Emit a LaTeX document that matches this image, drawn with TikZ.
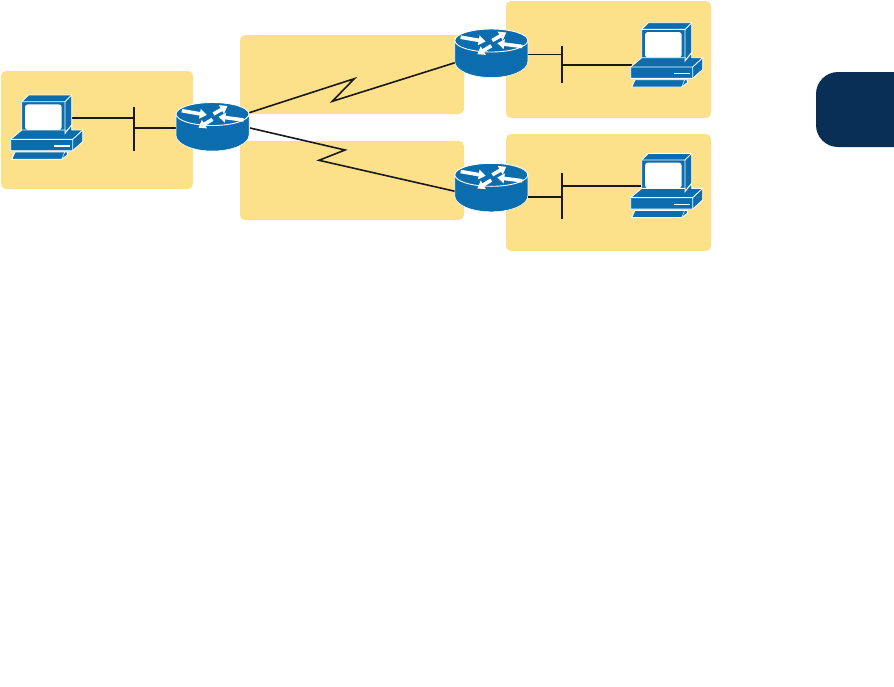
\documentclass[tikz,border=0pt]{standalone}
\usetikzlibrary{arrows.meta}
\definecolor{netsand}{HTML}{FCE18A}
\definecolor{netblue}{HTML}{0B6DAE}
\definecolor{netnavy}{HTML}{0A2F57}
\tikzset{
  pics/routericon/.style = {code = {
    % body, then top face
    \fill[netblue, draw=white, line width=0.5pt] (-36.5,0) -- (-36.5,21) arc[start angle=180, end angle=0, x radius=36.5, y radius=16] -- (36.5,0) -- cycle;
    \fill[netblue, draw=white, line width=0.9pt] (0,0) ellipse [x radius=36.5, y radius=11.5];
    \foreach \ax/\ay/\bx/\by in {-30.7/-3.3/-5.7/1, 1/0/15/-8, 31/6/6/2.7, 0/5.3/-14/13.7}
      \draw[white, line width=3.6pt, -{Triangle[length=7pt, width=9.5pt]}] (\ax,\ay) -- (\bx,\by);
  }},
  pics/pcicon/.style = {code = {
    % monitor
    \filldraw[netblue, draw=white, line width=0.9pt] (11,6.7) -- (17.7,0) -- (61,0) -- (61,30) -- (54.3,38.3) -- (11,38.3) -- cycle;
    \draw[white, line width=0.9pt] (11,6.7) -- (54.3,6.7) -- (61,0) (54.3,6.7) -- (54.3,38.3);
    \fill[white] (14.3,9.3) [rounded corners=3pt] rectangle (51,35);
    % base
    \filldraw[netblue, draw=white, line width=0.9pt] (0,44.3) -- (11,35) -- (54.3,35) -- (54.3,38.3) -- (61,30) -- (61,35) -- (72,35) -- (72,46.7) -- (62,55.7) -- (0,55.7) -- cycle;
    \draw[white, line width=0.9pt] (0,44.3) -- (62,44.3) -- (72,35) (62,44.3) -- (62,55.7);
    \draw[white, line width=1.4pt] (43.3,51) -- (59.3,51);
    % keyboard
    \filldraw[netblue, draw=white, line width=0.9pt] (1,64.3) -- (4.3,57) -- (56.7,57) -- (56.7,60) -- (51,64.3) -- cycle;
    \draw[white, line width=0.5pt] (51,64.3) -- (54,57);
  }}
}
\begin{document}
\begin{tikzpicture}[
  x=1pt, y=-1pt,
  lanzone/.style = {fill=netsand, rounded corners=5pt},
  ethline/.style = {line width=1.6pt, draw=black!90},
  wanline/.style = {line width=1.6pt, draw=black!90, line join=miter}
]
  \useasboundingbox (0,0) rectangle (894,686);
  % zones
  \fill[lanzone] (1,71) rectangle (193,189);
  \fill[lanzone] (240,35) rectangle (464,114);
  \fill[lanzone] (240,141) rectangle (464,220);
  \fill[lanzone] (506,1) rectangle (711,118);
  \fill[lanzone] (506,134) rectangle (711,251);
  % tab
  \fill[netnavy] (894,72) -- (838,72) arc[start angle=270, end angle=180, radius=22] -- (816,125) arc[start angle=180, end angle=90, radius=22] -- (894,147) -- cycle;
  % link ends
  \coordinate (rtrLa) at (249.3,112.7);
  \coordinate (rtrLb) at (250,128);
  \coordinate (rtrTa) at (455,62.7);
  \coordinate (rtrBa) at (455,191.3);
  % serial links
  \draw[wanline] (rtrLa) -- (354.3,78.7) -- (332.3,101.3) -- (rtrTa);
  \draw[wanline] (rtrLb) -- (345,150) -- (319,160.3) -- (rtrBa);
  % left lan
  \coordinate (barLt) at (133.7,106.7);
  \coordinate (barLb) at (133.7,150.7);
  \coordinate (barLm) at (133.7,117.7);
  \coordinate (barLr) at (133.7,128);
  \coordinate (pcLp) at (72,117.7);
  \coordinate (rtrLp) at (176,128);
  \draw[ethline] (barLt) -- (barLb);
  \draw[ethline] (pcLp) -- (barLm);
  \draw[ethline] (barLr) -- (rtrLp);
  % top lan
  \coordinate (barTt) at (562,46);
  \coordinate (barTb) at (562,83.3);
  \coordinate (barTm) at (562,54.5);
  \coordinate (barTr) at (562,64.7);
  \coordinate (rtrTp) at (527.7,54.5);
  \coordinate (pcTp) at (632,64.7);
  \draw[ethline] (barTt) -- (barTb);
  \draw[ethline] (rtrTp) -- (barTm);
  \draw[ethline] (barTr) -- (pcTp);
  % bottom lan
  \coordinate (barBt) at (562,173.3);
  \coordinate (barBb) at (562,218.7);
  \coordinate (barBm) at (562,196.7);
  \coordinate (barBr) at (562,185.7);
  \coordinate (rtrBp) at (527.7,196.7);
  \coordinate (pcBp) at (641,185.7);
  \draw[ethline] (barBt) -- (barBb);
  \draw[ethline] (rtrBp) -- (barBm);
  \draw[ethline] (barBr) -- (pcBp);
  % routers
  \pic at (212.5,114) {routericon};
  \pic at (491.3,40.5) {routericon};
  \pic at (491.3,174.8) {routericon};
  % computers
  \pic at (10.7,95) {pcicon};
  \pic at (630.7,22.7) {pcicon};
  \pic at (630.7,153.3) {pcicon};
\end{tikzpicture}
\end{document}
